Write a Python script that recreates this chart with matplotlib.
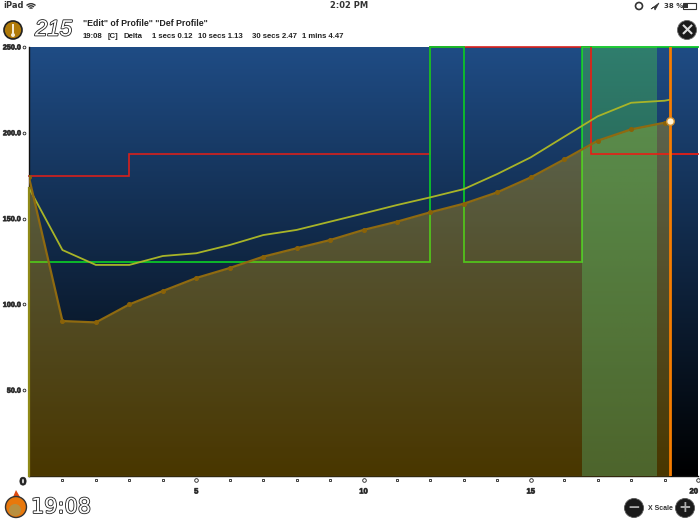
import numpy as np
import matplotlib
matplotlib.use("Agg")
import matplotlib.pyplot as plt
import matplotlib.patheffects as pe
from matplotlib.patches import Circle, Arc, Rectangle, Polygon

# profile samples
bean_x = [0, 1, 2, 3, 4, 5, 6, 7, 8, 9, 10, 11, 12, 13, 14, 15, 16, 17, 18, 19, 19.17]
bean_temp = [174, 90.3, 89.5, 100, 107.8, 115.4, 121.2, 127.8, 132.7, 137.5, 143.4,
             148.2, 153.7, 158.7, 165.3, 174, 184.5, 195.4, 202, 205.9, 206.6]
env_temp = [167.8, 131.7, 123, 123, 128.2, 129.8, 134.6, 140.4, 143.4, 148.2, 153,
            157.9, 162.4, 167.2, 176, 185.7, 197.7, 209.6, 217.5, 218.7, 219.3]

green_x = [0, 12, 12, 13, 13, 16.53, 16.53, 20]
green_y = [125, 125, 250, 250, 125, 125, 250, 250]
red_x = [0, 3, 3, 12, 12, 16.8, 16.8, 20]
red_y = [175, 175, 187.5, 187.5, 250, 250, 187.5, 187.5]

band_start = 16.53
band_end = 18.77
now_x = 19.17
now_y = 206.6

y_ticks = [50, 100, 150, 200, 250]
y_labels = ["50.0", "100.0", "150.0", "200.0", "250.0"]
x_major = [5, 10, 15, 20]
x_minor = [1, 2, 3, 4, 6, 7, 8, 9, 11, 12, 13, 14, 16, 17, 18, 19]

W, H = 700, 525
LIB = "Liberation Sans"
fig = plt.figure(figsize=(7, 5.25), dpi=100, facecolor="white")

# overlay in pixel coordinates for the app chrome around the chart
ui = fig.add_axes([0, 0, 1, 1])
ui.set_xlim(0, W)
ui.set_ylim(H, 0)
ui.axis("off")

ax = fig.add_axes([29 / W, 1 - 476 / H, (698 - 29) / W, (476 - 47) / H])
ax.set_xlim(0, 20)
ax.set_ylim(0, 250)

# blue to black background
grad = np.linspace(1, 0, 256)[:, None, None] * np.array([31, 76, 133]) / 255
ax.imshow(grad, extent=[0, 20, 0, 250], aspect="auto", zorder=0)

# red sits under the green, only its last steps show over the band
ax.plot(red_x, red_y, color="#d8201c", lw=1.2, zorder=2, clip_on=False, solid_joinstyle="miter")
ax.plot(green_x, green_y, color="#0cc428", lw=1.3, zorder=3, clip_on=False, solid_joinstyle="miter")

ax.fill_between(bean_x, bean_temp, 0, color=(1, 0.745, 0), alpha=0.29, lw=0, zorder=4)

# green band, its tint goes a little bluer towards the bottom
t = np.linspace(0, 1, 256)
band = np.zeros((256, 1, 4))
band[:, 0, 0] = 88 / 255
band[:, 0, 1] = (245 - 35 * t) / 255
band[:, 0, 2] = (56 + 94 * t) / 255
band[:, 0, 3] = 0.3
ax.imshow(band, extent=[band_start, band_end, 0, 250], aspect="auto", zorder=4.5)

ax.plot(red_x[5:], red_y[5:], color="#d8201c", lw=1.2, zorder=4.7, solid_joinstyle="miter")

ax.plot(bean_x, env_temp, color="#a8b428", lw=1.3, zorder=5)
ax.plot(bean_x, bean_temp, color="#8f6a10", lw=1.6, marker="o", ms=2.6, mfc="#8a6208",
        mec="#8a6208", zorder=5)
ax.plot([0, 0], [0, env_temp[0]], color="#8f8a18", lw=1.6, zorder=5, clip_on=False)
ax.axvline(now_x, color="#f57c00", lw=2, zorder=6)
ax.plot([now_x], [now_y], "o", ms=5.5, mfc="#fff4d8", mec="#d09030", mew=1, zorder=7)

for s in ["top", "right"]:
    ax.spines[s].set_visible(False)
ax.spines["left"].set_color("#101010")
ax.spines["bottom"].set_color("#101010")
ax.spines["left"].set_linewidth(1)
ax.spines["bottom"].set_linewidth(1)

outline = [pe.withStroke(linewidth=0.6, foreground="#555555")]
ax.set_yticks(y_ticks)
ax.set_yticklabels(y_labels, fontsize=5.2, fontweight="bold", family=LIB, color="#222222",
                   path_effects=outline)
ax.tick_params(axis="y", length=0, pad=5.8)
ax.set_xticks(x_major)
ax.set_xticklabels([str(v) for v in x_major], fontsize=5.5, fontweight="bold", family=LIB, color="#222222",
                   path_effects=outline)
ax.tick_params(axis="x", length=0, pad=9)
ax.get_xticklabels()[-1].set_ha("right")

# the small tick glyphs
ax.plot(x_minor, [-0.010] * len(x_minor), transform=ax.get_xaxis_transform(), ls="", marker="s",
        ms=1.7, mfc="white", mec="#222222", mew=0.6, clip_on=False)
ax.plot(x_major, [-0.010] * len(x_major), transform=ax.get_xaxis_transform(), ls="", marker="o",
        ms=2.6, mfc="white", mec="#222222", mew=0.6, clip_on=False)
ax.plot([-0.008] * len(y_ticks), y_ticks, transform=ax.get_yaxis_transform(), ls="", marker="o",
        ms=2, mfc="white", mec="#222222", mew=0.6, clip_on=False)

ui.text(23, 482, "0", fontsize=7.5, fontweight="bold", color="#222222", ha="center", va="center",
        path_effects=outline)

# status bar
gray = "#333333"
ui.text(3, 6, "iPad", fontsize=6, color=gray, va="center", fontweight="bold")
for r in [3, 6, 9]:
    ui.add_patch(Arc((31, 10), r * 1.4, r * 1.4, theta1=225, theta2=315, color=gray, lw=1))
ui.text(349, 6, "2:02 PM", fontsize=6, color=gray, va="center", ha="center", fontweight="bold")
ui.add_patch(Circle((639, 6), 3.5, fc="none", ec=gray, lw=1.2))
ui.add_patch(Polygon([(651, 9), (659, 3), (655, 10), (654, 7)], closed=True, fc=gray, ec=gray, lw=0.5))
ui.text(664, 6, "38 %", fontsize=5, color=gray, va="center", fontweight="bold")
ui.add_patch(Rectangle((683, 3), 13, 6, fc="white", ec=gray, lw=0.8))
ui.add_patch(Rectangle((684, 4), 4, 4, fc=gray, ec="none"))

# header
ui.add_patch(Circle((13, 30), 9, fc="#b07a08", ec="#222222", lw=1.2))
ui.add_patch(Rectangle((12, 24), 2, 10, fc="#f5ead0", ec="none"))
ui.add_patch(Circle((13, 35), 2, fc="#f5ead0", ec="none"))
ui.text(35, 30, "215", fontsize=16, style="italic", family=LIB, color="white", va="center",
        path_effects=[pe.withStroke(linewidth=1.2, foreground="#222222")])
ui.text(83, 24, "\"Edit\" of Profile\" \"Def Profile\"", fontsize=6.3, fontweight="bold", family=LIB,
        color="#222222", va="center")
for x, s in [(83, "19:08"), (108, "[C]"), (123, "Delta"), (152, "1 secs 0.12"), (198, "10 secs 1.13"),
             (252, "30 secs 2.47"), (302, "1 mins 4.47")]:
    ui.text(x, 37, s, fontsize=5.6, fontweight="bold", family=LIB, color="#222222", va="center")

ui.add_patch(Circle((687, 30), 9.5, fc="#1a1a1a", ec="#666666", lw=0.6))
ui.text(687, 30, "\u00d7", fontsize=13, fontweight="bold", color="#dddddd", ha="center", va="center")

# footer
ui.add_patch(Polygon([(13, 497), (16, 490), (20, 497)], closed=True, fc="#e04a10", ec="none"))
ui.add_patch(Circle((16, 507), 10.5, fc="#e8780c", ec="#333333", lw=1))
ui.add_patch(Circle((15, 510), 6, fc="#b89040", ec="none"))
ui.text(31, 507, "19:08", fontsize=15, color="white", va="center",
        path_effects=[pe.withStroke(linewidth=1.2, foreground="#222222")])

ui.add_patch(Circle((634, 508), 9.5, fc="#1a1a1a", ec="#555555", lw=0.6))
ui.text(634, 507, "\u2212", fontsize=11, fontweight="bold", color="#aaaaaa", ha="center", va="center")
ui.text(660, 508, "X Scale", fontsize=5, fontweight="bold", family=LIB, color="#333333", ha="center", va="center")
ui.add_patch(Circle((685, 508), 9.5, fc="#1a1a1a", ec="#555555", lw=0.6))
ui.text(685, 507, "+", fontsize=11, fontweight="bold", color="#aaaaaa", ha="center", va="center")

fig.savefig("out.png", dpi=100)
